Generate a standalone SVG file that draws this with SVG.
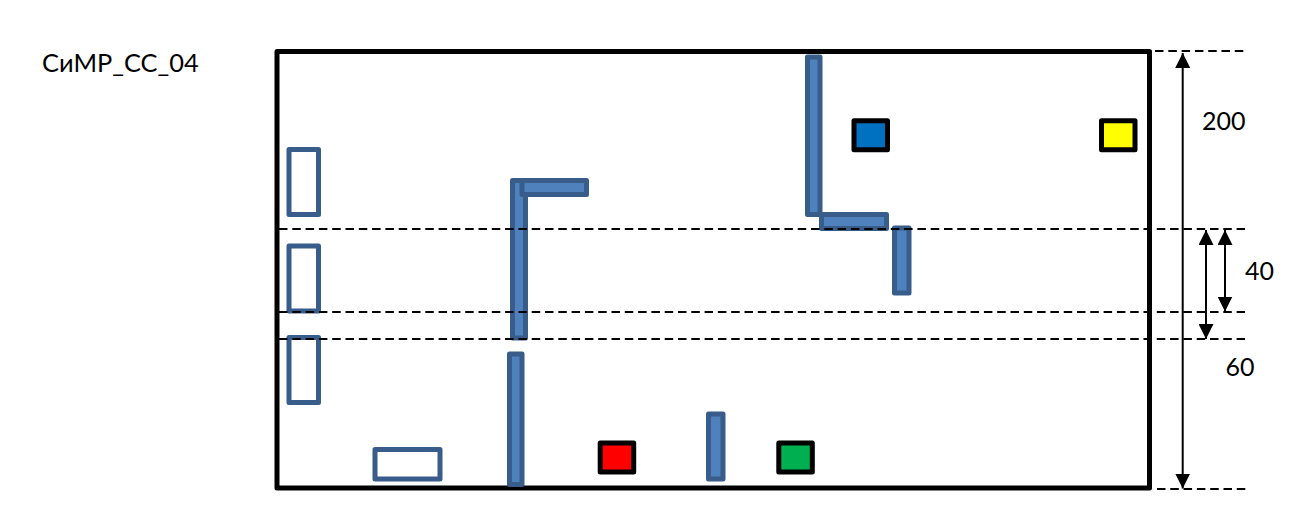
<svg xmlns="http://www.w3.org/2000/svg" width="1305" height="521" viewBox="0 0 1305 521">
<style>
text{font-family:"Lato","Open Sans","Noto Sans",sans-serif;font-size:25px;fill:#000}
.title{font-size:25.4px}
.hollow{fill:#fff;stroke:#385d8a;stroke-width:5;stroke-linejoin:round}
.bar{fill:#4f81bd;stroke:#385d8a;stroke-width:5;stroke-linejoin:round}
.sq{stroke:#000;stroke-width:5;stroke-linejoin:round}
.dash{fill:none;stroke:#000;stroke-width:2;stroke-dasharray:8.5 4.8}
.dim{fill:none;stroke:#000;stroke-width:2;marker-start:url(#head);marker-end:url(#head)}
</style>
<defs>
<marker id="head" viewBox="0 0 15 15" refX="15" refY="7.5" markerWidth="15" markerHeight="15" markerUnits="userSpaceOnUse" orient="auto-start-reverse"><path d="M0 0L15 7.5L0 15Z" fill="#000"/></marker>
</defs>
<rect width="1305" height="521" fill="#fff"/>
<g id="frame"><rect x="277" y="51.5" width="872.5" height="436.5" fill="none" stroke="#000" stroke-width="5" stroke-linejoin="round"/></g>
<g id="hollow-1"><rect class="hollow" x="289" y="149.5" width="29.5" height="65"/></g>
<g id="hollow-2"><rect class="hollow" x="289" y="246" width="29.5" height="65"/></g>
<g id="hollow-3"><rect class="hollow" x="289" y="337.5" width="29.5" height="65"/></g>
<g id="hollow-4"><rect class="hollow" x="375" y="449.5" width="65" height="29.5"/></g>
<g id="bar-a"><rect class="bar" x="512.5" y="180.5" width="13" height="157.5"/></g>
<g id="bar-b"><rect class="bar" x="522" y="180.5" width="64.5" height="14"/></g>
<g id="bar-c"><rect class="bar" x="509.5" y="354" width="12.5" height="130.5"/></g>
<g id="bar-d"><rect class="bar" x="807.5" y="57" width="12.5" height="157.5"/></g>
<g id="bar-e"><rect class="bar" x="821.5" y="214.500" width="65" height="14"/></g>
<g id="bar-f"><rect class="bar" x="894.500" y="228" width="14.500" height="65"/></g>
<g id="bar-g"><rect class="bar" x="708.500" y="414" width="14.500" height="65"/></g>
<g id="square-blue"><rect class="sq" fill="#0070c0" x="854" y="120.800" width="33.500" height="29"/></g>
<g id="square-yellow"><rect class="sq" fill="#ffff00" x="1101.500" y="120.800" width="33.500" height="29"/></g>
<g id="square-red"><rect class="sq" fill="#ff0000" x="600.200" y="443" width="33.500" height="29"/></g>
<g id="square-green"><rect class="sq" fill="#00b050" x="778.800" y="443" width="33.500" height="29"/></g>
<g id="connectors">
<path class="dash" d="M279 229H1246"/>
<path class="dash" d="M279 312H1245"/>
<path class="dash" d="M279 339H1246"/>
<path class="dash" d="M1155 51H1245"/>
<path class="dash" d="M1157 489H1247"/>
<path class="dim" d="M1182.700 53V488.500"/>
<path class="dim" d="M1206 230V339"/>
<path class="dim" d="M1225 230V311.500"/>
</g>
<text class="title" x="42" y="71.500">СиМР_СС_04</text>
<text x="1202" y="130">200</text>
<text x="1245" y="279.500">40</text>
<text x="1225.500" y="375.500">60</text>
</svg>
